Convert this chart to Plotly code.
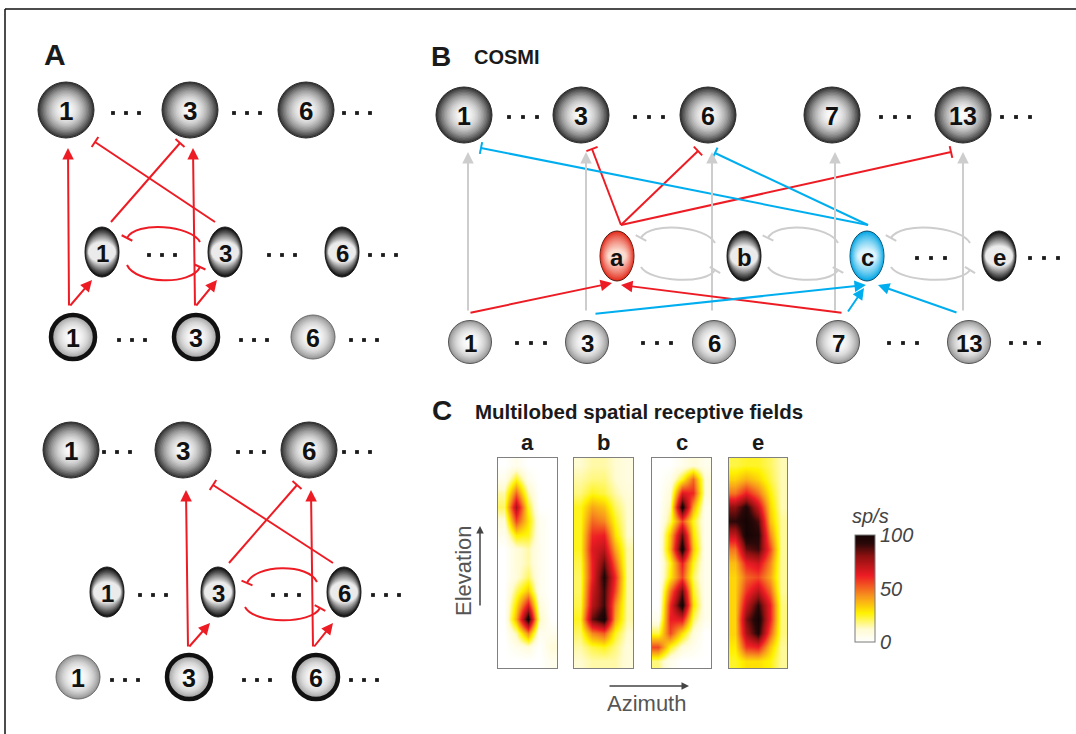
import numpy as np
import plotly.graph_objects as go

W, H = 1076, 734

RED = "#ed1c24"
BLUE = "#00aeef"
LINK_GRAY = "#cdcdcd"
LABEL_FONT = "Liberation Sans, Arial, Helvetica, sans-serif"
PLAIN_FONT = "Liberation Sans, Arial, Helvetica, sans-serif"

# ---------------------------------------------------------------------------
# Network layout: labels, x centres and row heights of every layer
# ---------------------------------------------------------------------------
A_LABELS = ["1", "3", "6"]
A1_TOP_X = [66, 190, 306]
A1_MID_X = [102, 225, 342]
A1_BOT_X = [73, 196, 313]
A1_ROW_Y = [110, 252, 337]
A1_ACTIVE = [True, True, False]

A2_TOP_X = [71, 183, 309]
A2_MID_X = [107, 218, 344]
A2_BOT_X = [78, 189, 316]
A2_ROW_Y = [450, 592, 677]
A2_ACTIVE = [False, True, True]

B_TOP_LABELS = ["1", "3", "6", "7", "13"]
B_TOP_X = [464, 581, 708, 832, 963]
B_MID_LABELS = ["a", "b", "c", "e"]
B_MID_X = [617, 744, 867, 999]
B_MID_KIND = ["red", "mid", "blue", "mid"]
B_BOT_X = [470, 587, 714, 838, 969]
B_ROW_Y = [115, 256, 342]

# "..." separators: (row y, list of x centres)
ELLIPSES = [
    (113, [126, 247, 357]), (255, [162, 282, 383]), (340, [132, 254, 364]),
    (452, [117, 251, 357]), (595, [153, 286, 386]), (680, [125, 257, 364]),
    (117, [523, 649, 895, 1016]), (258, [931, 1044]), (343, [531, 657, 903, 1025]),
]

# ---------------------------------------------------------------------------
# Receptive-field maps (sp/s), rows = elevation (top -> bottom), cols = azimuth
# ---------------------------------------------------------------------------
RF_A = [
    [0, 5, 0, 0, 0],
    [5, 25, 5, 0, 0],
    [15, 50, 15, 0, 0],
    [20, 75, 25, 0, 0],
    [10, 55, 30, 5, 0],
    [5, 28, 25, 5, 0],
    [0, 10, 15, 5, 0],
    [0, 10, 15, 5, 0],
    [0, 10, 20, 5, 0],
    [0, 20, 35, 5, 0],
    [0, 30, 65, 10, 0],
    [0, 38, 100, 15, 0],
    [0, 15, 45, 5, 5],
    [0, 5, 10, 0, 10],
    [0, 0, 0, 0, 5],
]
RF_B = [
    [12, 15, 15, 12, 8],
    [15, 18, 18, 12, 8],
    [18, 25, 22, 15, 10],
    [25, 40, 35, 20, 12],
    [25, 50, 45, 25, 12],
    [25, 60, 62, 30, 12],
    [25, 65, 72, 40, 15],
    [22, 62, 85, 50, 15],
    [20, 62, 95, 60, 15],
    [20, 68, 90, 55, 15],
    [22, 72, 90, 45, 15],
    [25, 85, 100, 40, 15],
    [20, 45, 52, 25, 12],
    [15, 22, 25, 18, 10],
    [12, 15, 15, 15, 10],
]
RF_C = [
    [0, 0, 5, 10, 5],
    [0, 5, 25, 50, 10],
    [0, 10, 65, 60, 10],
    [0, 15, 100, 40, 5],
    [0, 20, 55, 25, 5],
    [0, 35, 85, 30, 5],
    [0, 38, 100, 35, 5],
    [0, 25, 62, 25, 5],
    [0, 28, 55, 20, 5],
    [0, 48, 85, 25, 5],
    [0, 60, 100, 30, 5],
    [5, 62, 65, 20, 5],
    [22, 55, 30, 10, 0],
    [55, 25, 10, 5, 0],
    [18, 5, 0, 0, 0],
]
RF_E = [
    [22, 24, 24, 20, 14],
    [32, 38, 32, 22, 14],
    [48, 62, 48, 27, 14],
    [80, 95, 70, 32, 14],
    [92, 100, 88, 36, 16],
    [70, 100, 95, 45, 16],
    [48, 85, 90, 55, 16],
    [36, 62, 68, 45, 16],
    [32, 50, 55, 40, 16],
    [32, 58, 72, 50, 16],
    [32, 70, 92, 62, 18],
    [32, 82, 100, 62, 18],
    [32, 75, 95, 52, 18],
    [28, 58, 62, 35, 16],
    [24, 30, 30, 26, 16],
]
RF_NAMES = ["a", "b", "c", "e"]
RF_MAPS = [RF_A, RF_B, RF_C, RF_E]
RF_BOX_X = [(498, 557), (574, 633), (652, 711), (729, 787)]
RF_BOX_Y = (458, 668)
CBAR_TICKS = [0, 50, 100]

HOT = [
    [0.0, "#ffffff"], [0.12, "#fffbd2"], [0.27, "#fff200"], [0.43, "#f7941d"],
    [0.62, "#ed1c24"], [0.8, "#8e1010"], [0.92, "#2a0808"], [1.0, "#150404"],
]

# ---------------------------------------------------------------------------
shapes, annotations = [], []
nodes = {}

STYLES = {
    "big": dict(rx=28, ry=28, edge=(54, 54, 54), centre=(252, 252, 252), mode="radial", line="#2a2a2a"),
    "btop": dict(rx=28, ry=28, edge=(54, 54, 54), centre=(252, 252, 252), mode="radial", line="#2a2a2a"),
    "mid": dict(rx=17, ry=25, edge=(14, 14, 14), centre=(248, 248, 248), mode="caps", line="#222222"),
    "red": dict(rx=17, ry=25, edge=(226, 40, 24), centre=(253, 228, 216), mode="soft", line="#5a1a10"),
    "blue": dict(rx=17, ry=25, edge=(0, 165, 228), centre=(232, 249, 255), mode="soft", line="#0a4d6e"),
    "bot": dict(rx=22, ry=22, edge=(150, 150, 150), centre=(253, 253, 253), mode="light", line="#6a6a6a"),
    "bbot": dict(rx=21.5, ry=21.5, edge=(150, 150, 150), centre=(253, 253, 253), mode="light", line="#555555"),
}


def mix(c0, c1, w):
    return "rgb(%d,%d,%d)" % tuple(int(round(a + (b - a) * w)) for a, b in zip(c0, c1))


def draw_node(key, label, cx, cy, kind, ring=False, fsize=24):
    st = STYLES[kind]
    rx, ry = st["rx"], st["ry"]
    nodes[key] = (cx, cy)
    n = 18
    for i in range(n):
        t = i / n
        if st["mode"] == "radial":
            sx = sy = 1 - 0.97 * t
            w = 1 - sx ** 2.1
        elif st["mode"] == "light":
            sx = sy = 1 - 0.97 * t
            w = 1 - sx ** 2.4
        elif st["mode"] == "caps":
            sx = 1 - 0.22 * t
            sy = 1 - 0.62 * t
            w = t ** 1.0
        else:
            sx = 1 - 0.5 * t
            sy = 1 - 0.8 * t
            w = t ** 0.8
        shapes.append(dict(
            type="circle", xref="x", yref="y", layer="above",
            x0=cx - rx * sx, x1=cx + rx * sx, y0=cy - ry * sy, y1=cy + ry * sy,
            fillcolor=mix(st["edge"], st["centre"], w),
            line=dict(width=1 if i == 0 else 0, color=st["line"]),
        ))
    if ring:
        shapes.append(dict(
            type="circle", xref="x", yref="y", layer="above",
            x0=cx - rx, x1=cx + rx, y0=cy - ry, y1=cy + ry,
            line=dict(width=4.5, color="#111111"),
        ))
    annotations.append(dict(
        x=cx, y=cy + 1, xref="x", yref="y", text=label, showarrow=False,
        font=dict(family=LABEL_FONT, size=fsize, color="#111111", weight="bold"),
        xanchor="center", yanchor="middle",
    ))


for tag, tx, mx, bx, ry_, act in [
    ("A1", A1_TOP_X, A1_MID_X, A1_BOT_X, A1_ROW_Y, A1_ACTIVE),
    ("A2", A2_TOP_X, A2_MID_X, A2_BOT_X, A2_ROW_Y, A2_ACTIVE),
]:
    for i, lab in enumerate(A_LABELS):
        draw_node(f"{tag}t{i}", lab, tx[i], ry_[0], "big", fsize=26)
        draw_node(f"{tag}m{i}", lab, mx[i], ry_[1], "mid", fsize=24)
        draw_node(f"{tag}b{i}", lab, bx[i], ry_[2], "bot", ring=act[i], fsize=25)

for i, lab in enumerate(B_TOP_LABELS):
    draw_node(f"Bt{i}", lab, B_TOP_X[i], B_ROW_Y[0], "btop", fsize=25)
    draw_node(f"Bb{i}", lab, B_BOT_X[i], B_ROW_Y[2], "bbot", fsize=24)
for i, lab in enumerate(B_MID_LABELS):
    draw_node(f"Bm{i}", lab, B_MID_X[i], B_ROW_Y[1], B_MID_KIND[i], fsize=24)

node_shapes = shapes[:]
shapes.clear()

# ---------------------------------------------------------------------------
# Connections: (source, source offset, target, target offset, kind, colour)
# ---------------------------------------------------------------------------
LINKS = [
    ("A1b0", (-4, -30), "A1t0", (2, 38), "exc", RED),
    ("A1b0", (-4, -30), "A1m0", (-10, 28), "exc", RED),
    ("A1b1", (-1, -30), "A1t1", (3, 38), "exc", RED),
    ("A1b1", (-1, -30), "A1m1", (-8, 28), "exc", RED),
    ("A1m0", (9, -30), "A1t1", (-10, 33), "inh", RED),
    ("A1m1", (-10, -30), "A1t0", (29, 32), "inh", RED),
    ("A2b1", (-1, -29), "A2t1", (3, 40), "exc", RED),
    ("A2b1", (-1, -29), "A2m1", (-8, 31), "exc", RED),
    ("A2b2", (-3, -29), "A2t2", (2, 40), "exc", RED),
    ("A2b2", (-3, -29), "A2m2", (-11, 31), "exc", RED),
    ("A2m1", (11, -29), "A2t2", (-12, 35), "inh", RED),
    ("A2m2", (-11, -29), "A2t1", (30, 35), "inh", RED),
    # feed-forward grey pathways in COSMI
    ("Bb0", (-2, -30), "Bt0", (4, 37), "exc", LINK_GRAY),
    ("Bb1", (-1, -30), "Bt1", (5, 37), "exc", LINK_GRAY),
    ("Bb2", (-2, -30), "Bt2", (4, 37), "exc", LINK_GRAY),
    ("Bb3", (-3, -30), "Bt3", (3, 37), "exc", LINK_GRAY),
    ("Bb4", (-6, -30), "Bt4", (0, 37), "exc", LINK_GRAY),
    ("Bm0", (4, -31), "Bt1", (11, 34), "inh", RED),
    ("Bm0", (4, -31), "Bt2", (-10, 36), "inh", RED),
    ("Bm0", (4, -31), "Bt4", (-12, 37), "inh", RED),
    ("Bm2", (1, -31), "Bt0", (17, 33), "inh", BLUE),
    ("Bm2", (1, -31), "Bt2", (7, 38), "inh", BLUE),
    ("Bb0", (-1, -29), "Bm0", (-5, 27), "exc", RED),
    ("Bb3", (5, -29), "Bm0", (4, 29), "exc", RED),
    ("Bb1", (7, -28), "Bm2", (-1, 29), "exc", BLUE),
    ("Bb3", (9, -29), "Bm2", (-3, 32), "exc", BLUE),
    ("Bb4", (-11, -29), "Bm2", (11, 29), "exc", BLUE),
]

# Recurrent arcs: (source, offset, target, offset, bulge, colour)
ARCS = [
    ("A1m1", (-25, -10), "A1m0", (25, -14), 17, RED),
    ("A1m0", (25, 13), "A1m1", (-25, 15), -19, RED),
    ("A2m2", (-27, -10), "A2m1", (29, -9), 19, RED),
    ("A2m1", (27, 15), "A2m2", (-24, 16), -17, RED),
]
for left, right in [(0, 1), (1, 2), (2, 3)]:
    ARCS.append((f"Bm{right}", (-29, -13), f"Bm{left}", (24, -18), 17, LINK_GRAY))
    ARCS.append((f"Bm{left}", (24, 11), f"Bm{right}", (-29, 14), -15, LINK_GRAY))


def point(key, off):
    x, y = nodes[key]
    return np.array([x + off[0], y + off[1]], dtype=float)


def tee(p_end, direction, colour, half=6):
    d = direction / np.linalg.norm(direction)
    nrm = np.array([-d[1], d[0]])
    a, b = p_end - half * nrm, p_end + half * nrm
    shapes.append(dict(type="line", xref="x", yref="y", x0=a[0], y0=a[1], x1=b[0], y1=b[1],
                       line=dict(color=colour, width=2)))


link_annotations = []
grey_first = sorted(LINKS, key=lambda l: 0 if l[5] == LINK_GRAY else 1)
for src, so, dst, do, kind, col in grey_first:
    p0, p1 = point(src, so), point(dst, do)
    if kind == "exc":
        link_annotations.append(dict(
            x=p1[0], y=p1[1], ax=p0[0], ay=p0[1], xref="x", yref="y", axref="x", ayref="y",
            text="", showarrow=True, arrowhead=2, arrowsize=1.15, arrowwidth=2,
            arrowcolor=col, standoff=0, startstandoff=0,
        ))
    else:
        shapes.append(dict(type="line", xref="x", yref="y", x0=p0[0], y0=p0[1], x1=p1[0], y1=p1[1],
                           line=dict(color=col, width=2)))
        tee(p1, p1 - p0, col)

arc_shapes = []
for src, so, dst, do, k, col in ARCS:
    p0, p1 = point(src, so), point(dst, do)
    dx = p1[0] - p0[0]
    c1 = np.array([p0[0] + 0.12 * dx, p0[1] - k])
    c2 = np.array([p1[0] - 0.12 * dx, p1[1] - k])
    path = f"M {p0[0]},{p0[1]} C {c1[0]},{c1[1]} {c2[0]},{c2[1]} {p1[0]},{p1[1]}"
    arc_shapes.append(dict(type="path", xref="x", yref="y", path=path,
                           line=dict(color=col, width=2)))
    tee(p1, p1 - c2, col)

# grey lines drawn beneath coloured ones
grey_shapes = [s for s in shapes if s["line"]["color"] == LINK_GRAY]
col_shapes = [s for s in shapes if s["line"]["color"] != LINK_GRAY]
grey_arcs = [s for s in arc_shapes if s["line"]["color"] == LINK_GRAY]
col_arcs = [s for s in arc_shapes if s["line"]["color"] != LINK_GRAY]

frame = [
    dict(type="line", xref="x", yref="y", x0=5, y0=9, x1=W, y1=9, line=dict(color="#111", width=1.5)),
    dict(type="line", xref="x", yref="y", x0=5, y0=9, x1=5, y1=H, line=dict(color="#111", width=1.5)),
]

all_shapes = frame + grey_arcs + grey_shapes + col_arcs + col_shapes + node_shapes

fig = go.Figure()

# ellipsis dots
dot_x, dot_y = [], []
for y, xs in ELLIPSES:
    gap = 14 if y in (117, 258, 343) else 13
    for xc in xs:
        for k in (-1, 0, 1):
            dot_x.append(xc + k * gap)
            dot_y.append(y)
fig.add_trace(go.Scatter(x=dot_x, y=dot_y, mode="markers", hoverinfo="skip",
                         marker=dict(symbol="square", size=3.8, color="#1a1a1a"),
                         xaxis="x", yaxis="y"))

# receptive-field heat maps
layout_axes = {}
for i, (name, z) in enumerate(zip(RF_NAMES, RF_MAPS)):
    ax_id = i + 2
    x0, x1 = RF_BOX_X[i]
    y0, y1 = RF_BOX_Y
    trace = go.Heatmap(
        z=z, x=list(range(len(z[0]))), y=list(range(len(z))),
        zmin=0, zmax=100, zsmooth="best", colorscale=HOT, hoverinfo="skip",
        showscale=(i == len(RF_MAPS) - 1),
        xaxis=f"x{ax_id}", yaxis=f"y{ax_id}",
    )
    if i == len(RF_MAPS) - 1:
        trace.colorbar = dict(
            x=855 / W, xanchor="left", xpad=0, ypad=0,
            y=1 - 588.5 / H, yanchor="middle",
            len=107, lenmode="pixels", thickness=20, thicknessmode="pixels",
            outlinewidth=1, outlinecolor="#7a7a7a",
            tickvals=CBAR_TICKS, ticks="", ticklabelposition="outside",
            tickfont=dict(family=PLAIN_FONT, size=20, color="#444444", style="italic"),
        )
    fig.add_trace(trace)
    layout_axes[f"xaxis{ax_id}"] = dict(
        domain=[x0 / W, x1 / W], anchor=f"y{ax_id}", range=[-0.5, len(z[0]) - 0.5],
        showline=True, mirror=True, linecolor="#808080", linewidth=1,
        showticklabels=False, ticks="", showgrid=False, zeroline=False, fixedrange=True,
    )
    layout_axes[f"yaxis{ax_id}"] = dict(
        domain=[1 - y1 / H, 1 - y0 / H], anchor=f"x{ax_id}", range=[len(z) - 0.5, -0.5],
        showline=True, mirror=True, linecolor="#808080", linewidth=1,
        showticklabels=False, ticks="", showgrid=False, zeroline=False, fixedrange=True,
    )
    annotations.append(dict(
        x=(x0 + x1) / 2, y=442, xref="x", yref="y", text=name, showarrow=False,
        font=dict(family=LABEL_FONT, size=22, color="#1a1a1a", weight="bold"),
        xanchor="center", yanchor="middle",
    ))

# panel letters and titles
texts = [
    (55, 54, "A", 30, "center", LABEL_FONT, "bold", "normal", "#1a1a1a"),
    (441, 56, "B", 28, "center", LABEL_FONT, "bold", "normal", "#1a1a1a"),
    (472, 57, "COSMI", 20, "left", LABEL_FONT, "bold", "normal", "#1a1a1a"),
    (442, 410, "C", 28, "center", LABEL_FONT, "bold", "normal", "#1a1a1a"),
    (473, 411, "Multilobed spatial receptive fields", 20.5, "left", LABEL_FONT, "bold", "normal", "#1a1a1a"),
    (850, 516, "sp/s", 20, "left", PLAIN_FONT, "normal", "italic", "#444444"),
    (646, 703, "Azimuth", 22, "center", PLAIN_FONT, "normal", "normal", "#555555"),
]
for x, y, t, sz, anc, fam, wt, sty, col in texts:
    annotations.append(dict(x=x, y=y, xref="x", yref="y", text=t, showarrow=False,
                            xanchor=anc, yanchor="middle",
                            font=dict(family=fam, size=sz, color=col, weight=wt, style=sty)))
annotations.append(dict(x=463, y=571, xref="x", yref="y", text="Elevation", showarrow=False,
                        textangle=-90, xanchor="center", yanchor="middle",
                        font=dict(family=PLAIN_FONT, size=22, color="#555555")))
# axis direction arrows
for (tx, ty, sx, sy) in [(480, 526, 480, 607), (689, 686, 608, 686)]:
    annotations.append(dict(x=tx, y=ty, ax=sx, ay=sy, xref="x", yref="y", axref="x", ayref="y",
                            text="", showarrow=True, arrowhead=2, arrowsize=1.0, arrowwidth=1.5,
                            arrowcolor="#444444", standoff=0))

fig.update_layout(
    width=W, height=H, margin=dict(l=0, r=0, t=0, b=0),
    paper_bgcolor="white", plot_bgcolor="rgba(0,0,0,0)", showlegend=False,
    xaxis=dict(range=[0, W], domain=[0, 1], visible=False, fixedrange=True),
    yaxis=dict(range=[H, 0], domain=[0, 1], visible=False, fixedrange=True),
    shapes=all_shapes,
    annotations=link_annotations + annotations,
    **layout_axes,
)

fig.write_html("out.html")
